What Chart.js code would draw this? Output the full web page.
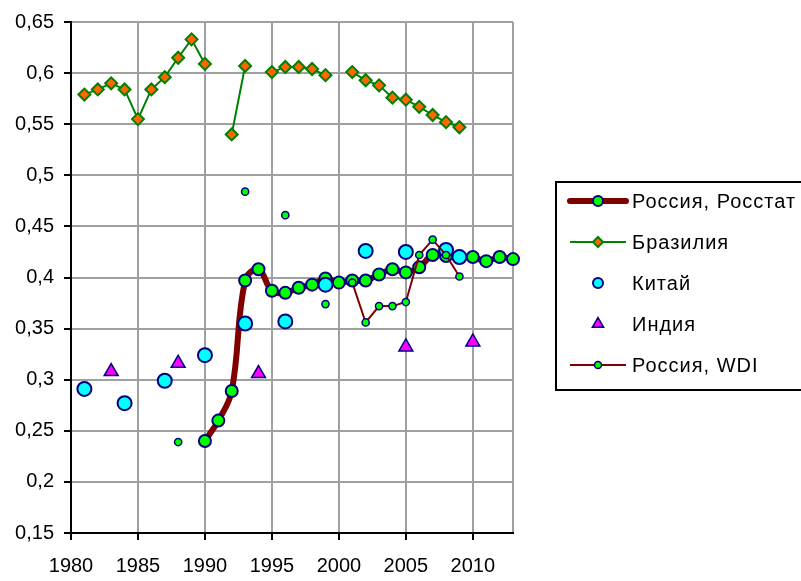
<!DOCTYPE html>
<html>
<head>
<meta charset="utf-8">
<script src="https://cdn.jsdelivr.net/npm/chart.js@4"></script>
<style>
  body { margin: 0; background: #fff; }
  canvas { display: block; }
</style>
</head>
<body>
<canvas id="chart" width="801" height="581"></canvas>
<script>
// Russia, Rosstat (1990-2013)
const rosstatYears  = [1990, 1991, 1992, 1993, 1994, 1995, 1996, 1997, 1998, 1999, 2000, 2001,
                       2002, 2003, 2004, 2005, 2006, 2007, 2008, 2009, 2010, 2011, 2012, 2013];
const rosstatValues = [0.240, 0.260, 0.289, 0.397, 0.408, 0.387, 0.385, 0.390, 0.393, 0.399, 0.395, 0.397,
                       0.397, 0.403, 0.408, 0.405, 0.410, 0.422, 0.421, 0.420, 0.420, 0.416, 0.420, 0.418];

// Brazil (null = no data, line breaks)
const brazilYears  = [1981, 1982, 1983, 1984, 1985, 1986, 1987, 1988, 1989, 1990, 1991, 1992, 1993, 1994,
                      1995, 1996, 1997, 1998, 1999, 2000, 2001, 2002, 2003, 2004, 2005, 2006, 2007, 2008, 2009];
const brazilValues = [0.579, 0.584, 0.590, 0.584, 0.555, 0.584, 0.596, 0.615, 0.633, 0.609, null, 0.540, 0.607, null,
                      0.601, 0.606, 0.606, 0.604, 0.598, null, 0.601, 0.593, 0.588, 0.576, 0.574, 0.567, 0.559, 0.552, 0.547];

// China
const chinaYears  = [1981, 1984, 1987, 1990, 1993, 1996, 1999, 2002, 2005, 2008, 2009];
const chinaValues = [0.291, 0.277, 0.299, 0.324, 0.355, 0.357, 0.393, 0.426, 0.425, 0.427, 0.420];

// India
const indiaYears  = [1983, 1988, 1994, 2005, 2010];
const indiaValues = [0.308, 0.316, 0.306, 0.332, 0.337];

// Russia, WDI
const wdiYears  = [1988, 1989, 1993, 1994, 1996, 1997, 1999, 2000, 2001, 2002, 2003, 2004, 2005, 2006, 2007, 2008, 2009];
const wdiValues = [0.239, null, 0.484, null, 0.461, null, 0.374, null, 0.395, 0.356, 0.372, 0.372, 0.376, 0.422, 0.437, 0.422, 0.401];

const seriesLabels = ['Россия, Росстат', 'Бразилия', 'Китай', 'Индия', 'Россия, WDI'];

// axis ticks
const xTicks = [1980, 1985, 1990, 1995, 2000, 2005, 2010];
const xMin = 1980, xMax = 2013;
const yMin = 0.15, yMax = 0.65, yStep = 0.05;

const FONT = "'Liberation Sans', Arial, sans-serif";
const NAVY = '#000080';
const DARKRED = '#800000';

const toPoints = (xs, ys) => xs.map((x, i) => ({ x, y: ys[i] }));

const legendItems = [
  { label: seriesLabels[0], line: { color: DARKRED, width: 6 },   style: 'circle',   r: 5,   fill: '#00ff00', border: NAVY,      bw: 2 },
  { label: seriesLabels[1], line: { color: '#008000', width: 2 }, style: 'rectRot',  r: 5,   fill: '#ff6600', border: '#008000', bw: 2 },
  { label: seriesLabels[2], line: null,                            style: 'circle',   r: 5,   fill: '#00ffff', border: NAVY,      bw: 2 },
  { label: seriesLabels[3], line: null,                            style: 'triangle', r: 6.5, fill: '#ff00ff', border: NAVY,      bw: 1.5 },
  { label: seriesLabels[4], line: { color: DARKRED, width: 2 },   style: 'circle',   r: 3.5, fill: '#00ff00', border: NAVY,      bw: 1.5 }
];

// legend box drawn by hand, boxed on the right
const boxLegend = {
  id: 'boxLegend',
  afterDraw(chart) {
    const ctx = chart.ctx;
    ctx.save();
    ctx.lineWidth = 2;
    ctx.strokeStyle = '#000';
    ctx.strokeRect(556, 182, 280, 208);
    ctx.font = '20px ' + FONT;
    ctx.textBaseline = 'middle';
    ctx.textAlign = 'left';
    legendItems.forEach((it, i) => {
      const y = 201 + i * 41;
      if (it.line) {
        ctx.beginPath();
        ctx.strokeStyle = it.line.color;
        ctx.lineWidth = it.line.width;
        ctx.lineCap = it.line.width > 3 ? 'round' : 'butt';
        ctx.moveTo(570, y);
        ctx.lineTo(626, y);
        ctx.stroke();
      }
      ctx.fillStyle = it.fill;
      ctx.strokeStyle = it.border;
      ctx.lineWidth = it.bw;
      Chart.helpers.drawPoint(ctx, { pointStyle: it.style, radius: it.r, rotation: 0, borderWidth: it.bw }, 598, y);
      ctx.fillStyle = '#000';
      ctx.letterSpacing = '1px';
      ctx.fillText(it.label, 632, y + 1);
      ctx.letterSpacing = '0px';
    });
    ctx.restore();
  }
};

const gridColor = '#a0a0a0';

new Chart(document.getElementById('chart'), {
  type: 'scatter',
  data: {
    datasets: [
      {
        label: seriesLabels[4],
        data: toPoints(wdiYears, wdiValues),
        showLine: true,
        spanGaps: false,
        borderColor: DARKRED,
        borderWidth: 2,
        pointStyle: 'circle',
        pointRadius: 3.6,
        pointBackgroundColor: '#00ff00',
        pointBorderColor: NAVY,
        pointBorderWidth: 1.5,
        order: 1
      },
      {
        label: seriesLabels[3],
        data: toPoints(indiaYears, indiaValues),
        showLine: false,
        pointStyle: 'triangle',
        pointRadius: 8,
        pointBackgroundColor: '#ff00ff',
        pointBorderColor: NAVY,
        pointBorderWidth: 1.5,
        order: 2
      },
      {
        label: seriesLabels[2],
        data: toPoints(chinaYears, chinaValues),
        showLine: false,
        pointStyle: 'circle',
        pointRadius: 7,
        pointBackgroundColor: '#00ffff',
        pointBorderColor: NAVY,
        pointBorderWidth: 2,
        order: 3
      },
      {
        label: seriesLabels[1],
        data: toPoints(brazilYears, brazilValues),
        showLine: true,
        spanGaps: false,
        borderColor: '#008000',
        borderWidth: 2,
        pointStyle: 'rectRot',
        pointRadius: 6,
        pointBackgroundColor: '#ff6600',
        pointBorderColor: '#008000',
        pointBorderWidth: 2,
        order: 4
      },
      {
        label: seriesLabels[0],
        data: toPoints(rosstatYears, rosstatValues),
        showLine: true,
        tension: 0.4,
        clip: 10,
        borderColor: DARKRED,
        borderWidth: 6,
        pointStyle: 'circle',
        pointRadius: 6,
        pointBackgroundColor: '#00ff00',
        pointBorderColor: NAVY,
        pointBorderWidth: 2,
        order: 5
      }
    ]
  },
  options: {
    responsive: false,
    animation: false,
    layout: { padding: { top: 17, right: 288, left: 0, bottom: 0 } },
    plugins: {
      legend: { display: false },
      tooltip: { enabled: false }
    },
    scales: {
      x: {
        type: 'linear',
        min: xMin,
        max: xMax,
        afterBuildTicks: s => { s.ticks = xTicks.concat([xMax]).map(v => ({ value: v })); },
        afterFit: s => { s.height = 48; },
        border: { color: '#000', width: 2 },
        grid: {
          color: gridColor,
          lineWidth: 2,
          tickLength: 7,
          tickWidth: 2,
          tickColor: c => (c.tick && !xTicks.includes(c.tick.value)) ? 'rgba(0,0,0,0)' : '#000'
        },
        ticks: {
          padding: 14,
          color: '#000',
          maxRotation: 0,
          autoSkip: false,
          font: { family: FONT, size: 20 },
          callback: v => (xTicks.includes(v) ? String(v) : '')
        }
      },
      y: {
        min: yMin,
        max: yMax,
        afterFit: s => { s.width = 71; },
        border: { color: '#000', width: 2 },
        grid: {
          color: gridColor,
          lineWidth: 2,
          tickLength: 7,
          tickWidth: 2,
          tickColor: '#000'
        },
        ticks: {
          stepSize: yStep,
          padding: 10,
          color: '#000',
          font: { family: FONT, size: 20 },
          callback: v => String(Math.round(v * 100) / 100).replace('.', ',')
        }
      }
    }
  },
  plugins: [boxLegend]
});
</script>
</body>
</html>
